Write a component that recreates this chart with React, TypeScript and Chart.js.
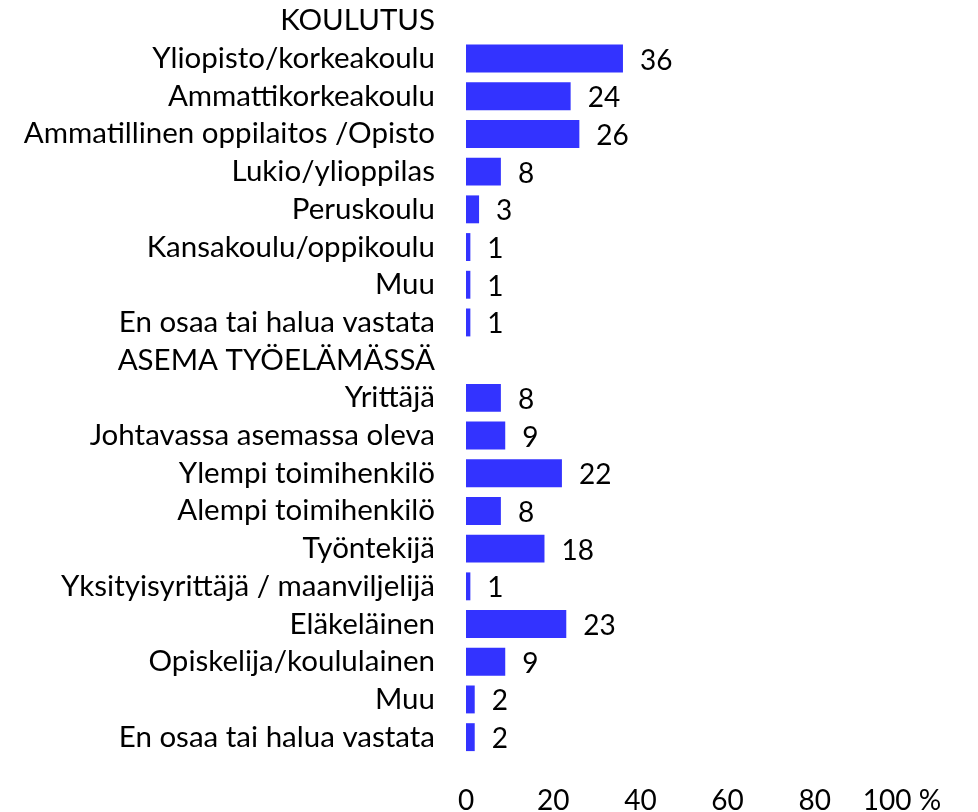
import React, { useEffect, useRef } from "react";
import { Chart, registerables } from "chart.js";

Chart.register(...registerables);

const categories: string[] = [
  "KOULUTUS",
  "Yliopisto/korkeakoulu",
  "Ammattikorkeakoulu",
  "Ammatillinen oppilaitos /Opisto",
  "Lukio/ylioppilas",
  "Peruskoulu",
  "Kansakoulu/oppikoulu",
  "Muu",
  "En osaa tai halua vastata",
  "ASEMA TYÖELÄMÄSSÄ",
  "Yrittäjä",
  "Johtavassa asemassa oleva",
  "Ylempi toimihenkilö",
  "Alempi toimihenkilö",
  "Työntekijä",
  "Yksityisyrittäjä / maanviljelijä",
  "Eläkeläinen",
  "Opiskelija/koululainen",
  "Muu",
  "En osaa tai halua vastata",
];

const values: (number | null)[] = [
  null, 36, 24, 26, 8, 3, 1, 1, 1,
  null, 8, 9, 22, 8, 18, 1, 23, 9, 2, 2,
];

const xTicks: number[] = [0, 20, 40, 60, 80, 100];
const lastTickSuffix = " %";

const FONT = "Lato, 'Open Sans', sans-serif";
const LABEL_SIZE = 29.5;
const TICK_SIZE = 28;
const VALUE_SIZE = 28;

const valueLabelPlugin = {
  id: "valueLabels",
  afterDatasetsDraw(chart: any) {
    const ctx = chart.ctx;
    const meta = chart.getDatasetMeta(0);
    ctx.save();
    ctx.font = `${VALUE_SIZE}px ${FONT}`;
    ctx.fillStyle = "#000000";
    ctx.textAlign = "left";
    ctx.textBaseline = "middle";
    meta.data.forEach((bar: any, i: number) => {
      const v = values[i];
      if (v === null || v === undefined) return;
      ctx.fillText(String(v), bar.x + 17, bar.y + 2);
    });
    ctx.restore();
  },
};

export default function App() {
  const canvasRef = useRef<HTMLCanvasElement | null>(null);

  useEffect(() => {
    if (!canvasRef.current) return;
    const chart = new Chart(canvasRef.current, {
      type: "bar",
      data: {
        labels: categories,
        datasets: [
          {
            data: values as any,
            backgroundColor: "#3333FF",
            borderWidth: 0,
            barPercentage: 0.74,
            categoryPercentage: 1,
          },
        ],
      },
      options: {
        indexAxis: "y",
        animation: false,
        responsive: false,
        maintainAspectRatio: false,
        layout: { padding: { top: 2, right: 76, bottom: 0, left: 0 } },
        plugins: {
          legend: { display: false },
          tooltip: { enabled: false },
        },
        scales: {
          x: {
            min: 0,
            max: 100,
            afterBuildTicks: (scale: any) => {
              scale.ticks = xTicks.map((v) => ({ value: v }));
            },
            afterFit: (scale: any) => {
              scale.height = 56;
              scale.paddingLeft = 0;
              scale.paddingRight = 0;
            },
            grid: { display: false, drawTicks: false },
            border: { display: false },
            ticks: {
              padding: 28,
              color: "#000000",
              font: { family: FONT, size: TICK_SIZE },
              maxRotation: 0,
              callback: (v: any) =>
                Number(v) === 100 ? `${v}${lastTickSuffix}` : String(v),
            },
          },
          y: {
            afterFit: (scale: any) => {
              scale.width = 466;
              scale.paddingTop = 0;
              scale.paddingBottom = 0;
            },
            grid: { display: false, drawTicks: false },
            border: { display: false },
            ticks: {
              padding: 31,
              color: "#000000",
              autoSkip: false,
              font: { family: FONT, size: LABEL_SIZE },
            },
          },
        },
      },
      plugins: [valueLabelPlugin],
    });
    return () => chart.destroy();
  }, []);

  return (
    <div style={{ position: "absolute", left: 0, top: 0, width: 978, height: 812, background: "#ffffff" }}>
      <canvas ref={canvasRef} width={978} height={812} style={{ width: 978, height: 812 }} />
    </div>
  );
}
